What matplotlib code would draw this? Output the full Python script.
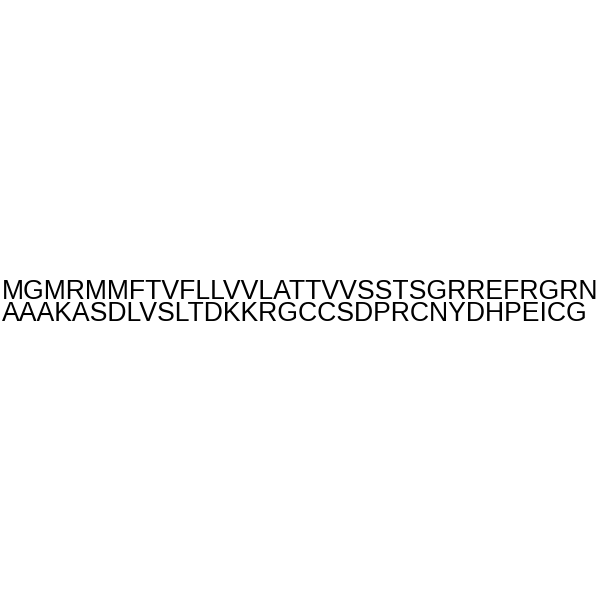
import matplotlib.pyplot as plt

# peptide sequence, split over two lines as in the picture
seq_lines = [
    "MGMRMMFTVFLLVVLATTVVSSTSGRREFRGRN",
    "AAAKASDLVSLTDKKRGCCSDPRCNYDHPEICG",
]
baselines_px = [299, 321]

fig = plt.figure(figsize=(6, 6), dpi=100)
fig.patch.set_facecolor("white")

for line, base in zip(seq_lines, baselines_px):
    fig.text(
        2 / 600, 1 - base / 600, line,
        family="Liberation Sans", fontsize=19.2, color="black",
        ha="left", va="baseline",
    )

fig.savefig("out.png", dpi=100, facecolor="white")
